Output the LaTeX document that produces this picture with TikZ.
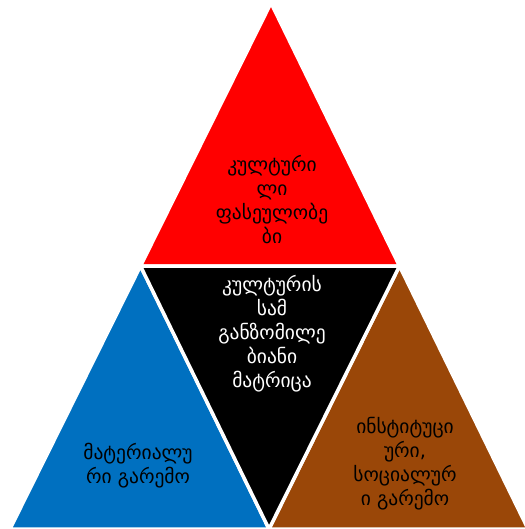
\documentclass[tikz,border=0pt]{standalone}
\usepackage{fontspec}
\usepackage{xcolor}
\usepackage{tikz}
\usetikzlibrary{calc}
\newfontfamily\geofont{DejaVu Sans}
\definecolor{cRed}{HTML}{FF0000}
\definecolor{cBlue}{HTML}{0070C0}
\definecolor{cBrown}{HTML}{9A4708}
\definecolor{cBlack}{HTML}{000000}

\begin{document}
\begin{tikzpicture}[
  x=1pt, y=-1pt,
  part/.style={draw=white, line width=3.5pt, line join=miter},
  every node/.style={font=\geofont\fontsize{19.5}{24}\selectfont, align=center, inner sep=0pt},
]
\useasboundingbox (0,0) rectangle (524,529);

\coordinate (top) at (271,3);
\coordinate (left) at (10,529);
\coordinate (right) at (528,529);
\coordinate (midL) at ($(top)!0.5!(left)$);
\coordinate (midR) at ($(top)!0.5!(right)$);
\coordinate (midB) at ($(left)!0.5!(right)$);
%
% ─── RED ───
\fill[cRed, part] (top) -- (midL) -- (midR) -- cycle;
\node[text=black] (values) at (272,200) {კულტური\\ლი\\ფასეულობე\\ბი};
%
% ─── BLUE ───
\fill[cBlue, part] (midL) -- (left) -- (midB) -- cycle;
\node[text=black] (material) at (138,466) {მატერიალუ\\რი გარემო};
%
% ─── BROWN ───
\fill[cBrown, part] (midR) -- (midB) -- (right) -- cycle;
\node[text=black] (social) at (405,464) {ინსტიტუცი\\ური,\\სოციალურ\\ი გარემო};
%
% ─── BLACK ───
\fill[cBlack, part] (midL) -- (midR) -- (midB) -- cycle;
\node[text=white] (matrix) at (272,334) {კულტურის\\სამ\\განზომილე\\ბიანი\\მატრიცა};

\end{tikzpicture}
\end{document}
